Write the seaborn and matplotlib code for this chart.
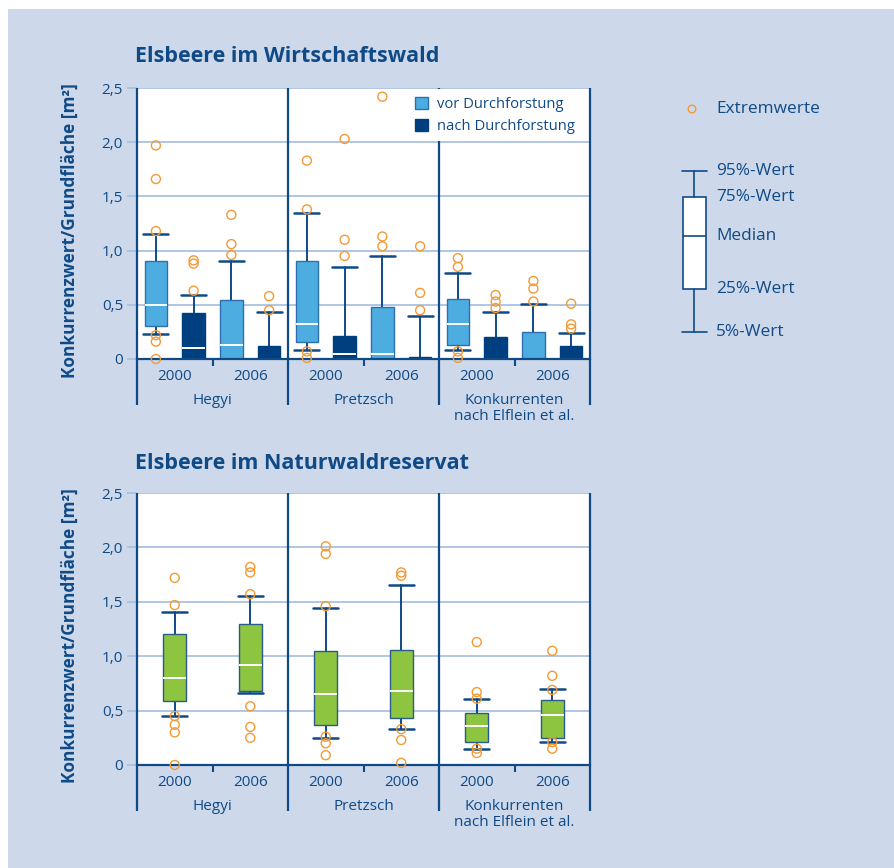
import numpy as np
import pandas as pd
import matplotlib.pyplot as plt
import seaborn as sns
from matplotlib.patches import Patch, Rectangle

# --- data -----------------------------------------------------------------
methods = ["Hegyi", "Pretzsch", "Konkurrenten\nnach Elflein et al."]
years = ["2000", "2006"]
states = ["vor Durchforstung", "nach Durchforstung"]
y_ticks = [0, 0.5, 1.0, 1.5, 2.0, 2.5]
y_tick_labels = ["0", "0,5", "1,0", "1,5", "2,0", "2,5"]

# Wirtschaftswald: order per method -> 2000 vor, 2000 nach, 2006 vor, 2006 nach
wirt_p05 = [0.23, 0.0, 0.0, 0.0, 0.08, 0.0, 0.0, 0.0, 0.08, 0.0, 0.0, 0.0]
wirt_p25 = [0.30, 0.0, 0.0, 0.0, 0.16, 0.0, 0.0, 0.0, 0.13, 0.0, 0.0, 0.0]
wirt_med = [0.50, 0.10, 0.13, 0.0, 0.32, 0.05, 0.05, 0.0, 0.32, 0.0, 0.0, 0.0]
wirt_p75 = [0.90, 0.42, 0.54, 0.12, 0.90, 0.21, 0.48, 0.02, 0.55, 0.20, 0.25, 0.12]
wirt_p95 = [1.15, 0.59, 0.90, 0.43, 1.35, 0.85, 0.95, 0.40, 0.79, 0.43, 0.51, 0.24]
wirt_ext = [
    [1.97, 1.66, 1.18, 0.22, 0.16, 0.0],
    [0.91, 0.88, 0.63],
    [1.33, 1.06, 0.96],
    [0.58, 0.45],
    [1.83, 1.38, 0.07, 0.01],
    [2.03, 1.10, 0.95],
    [2.42, 1.13, 1.04],
    [1.04, 0.61, 0.45],
    [0.93, 0.85, 0.07, 0.01],
    [0.59, 0.53, 0.47],
    [0.72, 0.65, 0.53],
    [0.51, 0.32, 0.28],
]

# Naturwaldreservat: order per method -> 2000, 2006
nat_p05 = [0.45, 0.66, 0.25, 0.33, 0.15, 0.21]
nat_p25 = [0.59, 0.68, 0.37, 0.43, 0.21, 0.25]
nat_med = [0.80, 0.92, 0.65, 0.68, 0.36, 0.46]
nat_p75 = [1.20, 1.30, 1.05, 1.06, 0.48, 0.60]
nat_p95 = [1.41, 1.55, 1.44, 1.65, 0.61, 0.70]
nat_ext = [
    [1.72, 1.47, 0.45, 0.37, 0.30, 0.0],
    [1.82, 1.77, 1.57, 0.54, 0.35, 0.25],
    [2.01, 1.94, 1.46, 0.26, 0.20, 0.09],
    [1.77, 1.74, 0.33, 0.23, 0.02],
    [1.13, 0.67, 0.61, 0.15, 0.11],
    [1.05, 0.82, 0.69, 0.21, 0.15],
]

key_labels = ["5%-Wert", "25%-Wert", "Median", "75%-Wert", "95%-Wert"]

# --- style ---------------------------------------------------------------
bg = "#cdd9ea"
dark = "#0f4a87"
grid_c = "#a9c1e0"
light_blue = "#4eade0"
navy = "#003f7f"
green = "#8dc541"
orange = "#f39a35"

sns.set_theme(style="white")
plt.rcParams["font.family"] = ["Open Sans", "DejaVu Sans"]

W, H = 894, 868
fig = plt.figure(figsize=(W / 100, H / 100), dpi=100, facecolor="white")
fig.patches.append(Rectangle((8 / W, 0), 1, 1 - 9 / H, transform=fig.transFigure,
                             facecolor=bg, edgecolor="none", zorder=-10))


def px_axes(x0, y0, x1, y1):
    return fig.add_axes([x0 / W, 1 - y1 / H, (x1 - x0) / W, (y1 - y0) / H])


def draw_panel(ax, p05, p25, med, p75, p95, ext, step, face_colors, edge_colors):
    n_groups = len(methods)
    n_slots = 4
    pos = np.arange(len(med)) * step + step / 2
    stats = [dict(whislo=a, q1=b, med=c, q3=d, whishi=e, fliers=[])
             for a, b, c, d, e in zip(p05, p25, med, p75, p95)]
    bp = ax.bxp(stats, positions=pos, widths=0.6, capwidths=0.66,
                patch_artist=True, showfliers=False, manage_ticks=False,
                boxprops=dict(linewidth=1.0),
                whiskerprops=dict(color=dark, linewidth=1.4),
                capprops=dict(color=dark, linewidth=1.8),
                medianprops=dict(color="white", linewidth=1.4))
    for i, box in enumerate(bp["boxes"]):
        box.set_facecolor(face_colors[i % len(face_colors)])
        box.set_edgecolor(edge_colors[i % len(edge_colors)])
        box.set_zorder(3)
    for ln in bp["medians"]:
        ln.set_zorder(3.1)

    df = pd.DataFrame({
        "x": np.repeat(pos, [len(e) for e in ext]),
        "y": [v for e in ext for v in e],
    })
    sns.scatterplot(data=df, x="x", y="y", ax=ax, marker="o", s=42,
                    facecolor="none", edgecolor=orange, linewidth=1.0,
                    legend=False, zorder=4, clip_on=False)

    ax.set_xlim(0, n_groups * n_slots)
    ax.set_ylim(0, 2.5)
    ax.set_xlabel("")
    ax.set_ylabel("")
    ax.set_facecolor("white")
    ax.set_yticks(y_ticks)
    ax.set_yticklabels(y_tick_labels)
    ax.yaxis.grid(True, color=grid_c, linewidth=1.3)
    ax.set_axisbelow(True)
    for s in ["top", "right", "left"]:
        ax.spines[s].set_visible(False)
    ax.spines["bottom"].set_color(dark)
    ax.spines["bottom"].set_linewidth(1.6)
    ax.spines["bottom"].set_zorder(3.5)
    ax.tick_params(axis="y", left=True, length=7, width=1.3, color=grid_c,
                   labelcolor=dark, labelsize=11, pad=3)
    ticks = ax.yaxis.get_major_ticks()
    for t in (ticks[0], ticks[-1]):
        t.tick1line.set_color(dark)

    year_pos = np.arange(n_groups * 2) * 2 + 1
    ax.set_xticks(year_pos)
    ax.set_xticklabels(years * n_groups)
    ax.set_xticks(np.arange(n_groups) * n_slots + 2, minor=True)
    ax.tick_params(axis="x", which="major", length=0, labelcolor=dark,
                   labelsize=11, pad=7)
    ax.tick_params(axis="x", which="minor", bottom=True, length=5, width=1.5,
                   color=dark, direction="out")

    edges = np.arange(n_groups + 1) * n_slots
    # outer frame lines sit above the legend, inner separators below it
    ax.vlines(edges[[0, -1]], -0.17, 1, transform=ax.get_xaxis_transform(),
              color=dark, linewidth=1.6, clip_on=False, zorder=6)
    ax.vlines(edges[1:-1], -0.17, 1, transform=ax.get_xaxis_transform(),
              color=dark, linewidth=1.6, clip_on=False, zorder=4.5)
    for i, m in enumerate(methods):
        ax.text(i * n_slots + 2, -0.125, m, transform=ax.get_xaxis_transform(),
                ha="center", va="top", color=dark, fontsize=11,
                linespacing=1.1)


# --- top panel -----------------------------------------------------------
ax1 = px_axes(137, 88, 590, 359)
draw_panel(ax1, wirt_p05, wirt_p25, wirt_med, wirt_p75, wirt_p95, wirt_ext,
           1, [light_blue, navy], ["#2b6fae", navy])
handles = [Patch(facecolor=light_blue, edgecolor="#2b6fae"),
           Patch(facecolor=navy, edgecolor=navy)]
leg = ax1.legend(handles, states, loc="upper right",
                 bbox_to_anchor=(0.982, 0.995), borderaxespad=0,
                 frameon=True, facecolor="white", edgecolor="none",
                 framealpha=1, fancybox=False, fontsize=10.6,
                 handlelength=0.9, handleheight=0.9, handletextpad=0.6,
                 labelspacing=0.45, borderpad=0.5)
for t in leg.get_texts():
    t.set_color(dark)
leg.set_zorder(5)

# --- bottom panel --------------------------------------------------------
ax2 = px_axes(137, 493, 590, 765)
draw_panel(ax2, nat_p05, nat_p25, nat_med, nat_p75, nat_p95, nat_ext,
           2, [green], ["#2a5a8a"])

# titles and y labels
fig.text(135 / W, 1 - 57 / H, "Elsbeere im Wirtschaftswald", ha="left",
         va="center", fontsize=15.5, fontweight="bold", color=dark)
fig.text(135 / W, 1 - 463 / H, "Elsbeere im Naturwaldreservat", ha="left",
         va="center", fontsize=15.5, fontweight="bold", color=dark)
for yc in (231, 636):
    fig.text(70 / W, 1 - yc / H, "Konkurrenzwert/Grundfläche [m²]",
             rotation=90, ha="center", va="center", fontsize=12.4,
             fontweight="bold", color=dark)

# --- key (schematic box) ---------------------------------------------------
axk = fig.add_axes([0, 0, 1, 1], facecolor="none")
axk.set_xlim(0, W)
axk.set_ylim(H, 0)
axk.axis("off")
key_levels = [332, 289, 236, 197, 171]
kb = axk.bxp([dict(whislo=key_levels[0], q1=key_levels[1], med=key_levels[2],
                   q3=key_levels[3], whishi=key_levels[4], fliers=[])],
             positions=[694], widths=23, capwidths=25, patch_artist=True,
             showfliers=False, manage_ticks=False,
             boxprops=dict(facecolor="white", edgecolor=dark, linewidth=1.2),
             whiskerprops=dict(color=dark, linewidth=1.2),
             capprops=dict(color=dark, linewidth=1.2),
             medianprops=dict(color=dark, linewidth=1.2))
for lab, lv in zip(key_labels, key_levels):
    axk.text(716, lv, lab, ha="left", va="center", fontsize=12.4, color=dark)
axk.scatter([692], [109], s=30, facecolor="none", edgecolor=orange, linewidth=1.0)
axk.text(716, 109, "Extremwerte", ha="left", va="center", fontsize=12.4,
         color=dark)

fig.savefig("out.png", dpi=100, facecolor="white")
